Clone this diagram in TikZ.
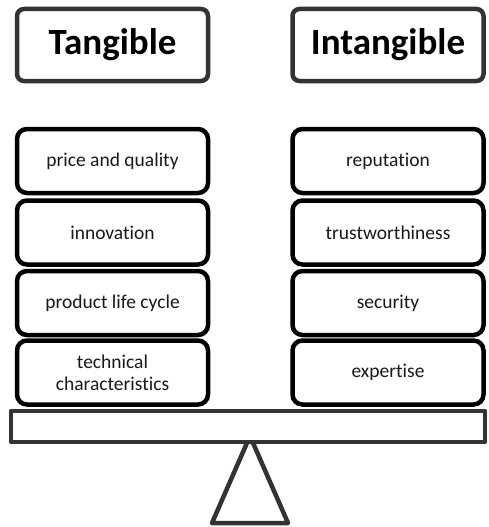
\documentclass[tikz,border=0pt]{standalone}
\usepackage{fontspec}
\setmainfont[Ligatures=NoCommon]{Carlito}
\begin{document}
\begin{tikzpicture}[x=1pt,y=-1pt,
  header/.style={draw=black!80, line width=4.5pt, rounded corners=7pt, fill=white,
    minimum width=191pt, minimum height=72pt, inner sep=0pt,
    font=\fontsize{37}{40}\selectfont\bfseries},
  item/.style={draw=black, line width=4.5pt, rounded corners=10pt, fill=white,
    minimum width=191pt, minimum height=64pt, inner sep=0pt, align=center,
    font=\fontsize{19.5}{22}\selectfont, text=black!90},
  texture/.style={draw=black!80, line width=4.5pt, fill=white, line join=round}]
\useasboundingbox (0,0) rectangle (488,527);
% headers
\node[header] (tan) at (112.5,45) {Tangible};
\node[header] (intan) at (388,45) {Intangible};
% left items
\node[item] (l1) at (112.5,161) {price and quality};
\node[item] (l2) at (112.5,232.5) {innovation};
\node[item] (l3) at (112.5,303) {product life cycle};
\node[item] (l4) at (112.5,372.5) {technical\\characteristics};
% right items
\node[item] (r1) at (388,161) {reputation};
\node[item] (r2) at (388,232.5) {trustworthiness};
\node[item] (r3) at (388,303) {security};
\node[item] (r4) at (388,372.5) {expertise};
% fulcrum
\coordinate (apex) at (250,436);
\coordinate (bl) at (212,523);
\coordinate (br) at (288,523);
\draw[texture] (apex) -- (br) -- (bl) -- cycle;
% beam
\draw[texture] (11,411) rectangle (485,442);
\end{tikzpicture}
\end{document}
